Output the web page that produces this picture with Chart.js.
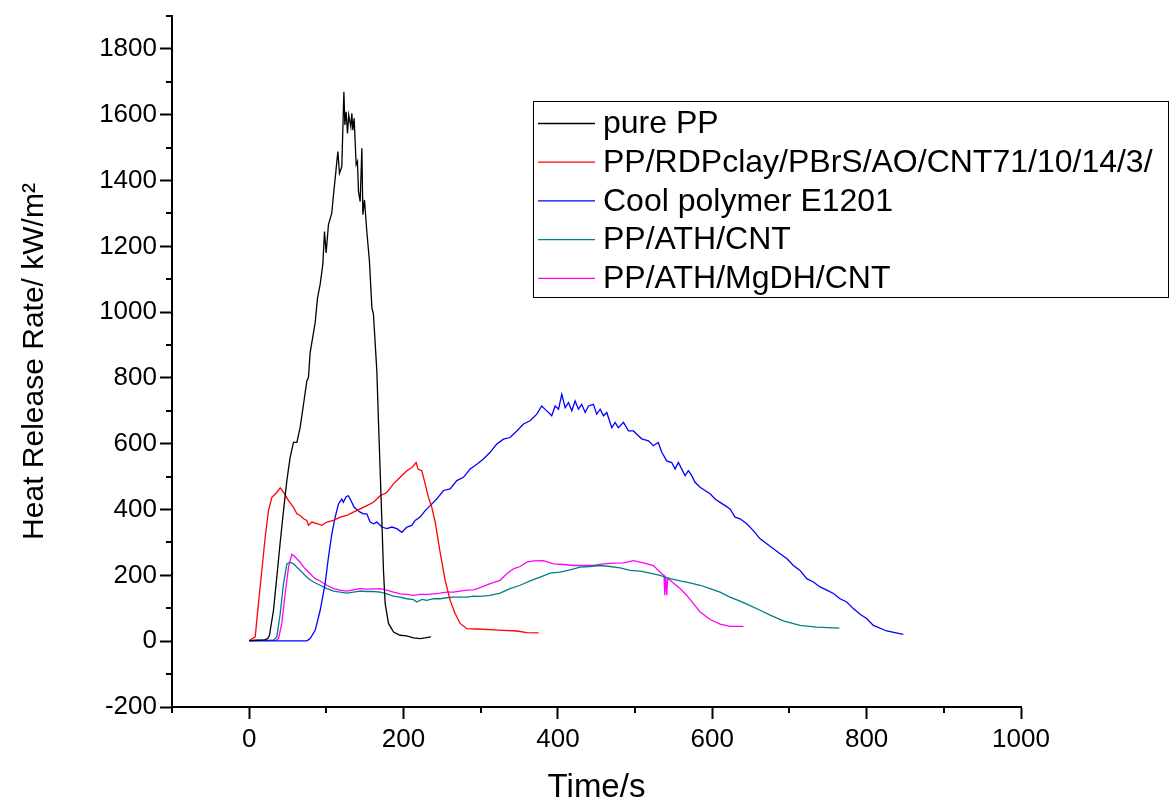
<!DOCTYPE html>
<html>
<head>
<meta charset="utf-8">
<title>Heat Release Rate</title>
<script src="https://cdn.jsdelivr.net/npm/chart.js@4.4.1/dist/chart.umd.min.js"></script>
<style>
    html, body { margin: 0; padding: 0; background: #fff; }
    #wrap { width: 1170px; height: 804px; }
</style>
</head>
<body>
<div id="wrap"><canvas id="grafica" width="1170" height="804"></canvas></div>
<script>
// series: [time (s), HRR (kW/m2)]
const purePP = [[0,2],[10,3],[20,4],[24,8],[26.3,18],[31.5,94],[35.8,195],[40,296],[44.5,397],[48.8,488],[53,558],[57.4,604],[61.8,604],[66,649],[70.4,720],[74.7,791],[76.8,801],[79,877],[85.5,968],[88.5,1043],[92,1085],[95.4,1145],[97.6,1245],[99.7,1180],[102.7,1266],[107,1301],[109.2,1356],[112.3,1427],[114.9,1488],[117,1422],[120,1442],[122.7,1670],[124,1569],[125.6,1609],[127.4,1543],[129,1599],[131.7,1564],[133,1604],[134.3,1553],[136,1589],[138.6,1448],[140.3,1458],[141.6,1367],[143.8,1336],[146,1498],[147.3,1296],[149.4,1341],[152.4,1245],[155.8,1155],[159,1013],[161,993],[165.4,821],[167.5,670],[169.7,518],[171.9,367],[174,215],[176.2,114],[180.5,54],[187,28],[195.6,18],[204,16],[212.8,10],[221.5,8],[227.9,10],[235.3,13]];

const rdpClay = [[0,2],[7.8,13],[12,114],[16.4,215],[20.7,316],[25,397],[29.4,437],[35.8,452],[40.2,466],[44.5,452],[51,427],[57.4,407],[61.8,387],[66,382],[70.4,372],[74.7,367],[76.8,352],[81.2,362],[87.7,357],[94.1,352],[100.6,362],[109.2,367],[117.9,377],[126.5,382],[135.1,392],[143.8,402],[152.4,412],[161,422],[169.7,442],[178.3,452],[187,478],[195.6,498],[204.3,518],[210.7,528],[216.3,543],[218.8,523],[223.7,518],[228,478],[232.3,437],[236.6,407],[241,362],[247.4,270],[253.9,185],[260.4,124],[266.8,84],[273.3,54],[282,38],[295,37],[312,35],[329.4,33],[346.7,31],[359.7,26],[374.8,25]];

const coolE1201 = [[0,1],[40,1],[74.7,1],[79,8],[85.5,33],[92,94],[98.4,175],[102.7,255],[107.1,326],[111.4,377],[115.7,417],[120,432],[122,422],[125.6,439],[128.6,442],[132,427],[136,407],[138.6,402],[143.8,392],[148,387],[152.4,387],[156.7,362],[161,357],[165.4,362],[171.9,347],[178.3,342],[184.8,347],[191.3,342],[197.8,331],[204.3,347],[210.7,352],[215,367],[221.5,377],[228,397],[234.5,412],[243,432],[251.7,458],[260.4,463],[269,488],[277.6,498],[286.3,523],[295,538],[303.5,554],[312.2,574],[320.8,599],[329.4,614],[338,619],[346.8,639],[355.3,660],[364,670],[372.7,690],[379,715],[385.6,700],[392,685],[396.4,715],[400.8,705],[405,750],[409.4,710],[413.7,725],[418,700],[422.3,730],[426.6,705],[430.9,720],[435.3,695],[439.6,715],[446,720],[450.3,690],[454.7,705],[459,685],[463.3,695],[469.8,649],[474.1,665],[478.4,649],[484.9,665],[491.4,639],[497.8,639],[502.2,629],[508.6,615],[517.3,609],[523.7,594],[530,604],[534.6,574],[541,548],[547.5,543],[551.8,523],[556.1,543],[560.5,523],[564.8,503],[569.1,518],[573.4,503],[577.7,483],[584.2,468],[590.6,458],[597.2,448],[603.6,432],[610.1,422],[616.6,412],[623,402],[629.5,377],[636,372],[644.7,357],[653.2,336],[662,311],[670.6,296],[679.2,281],[687.8,266],[696.5,251],[705,230],[713.7,215],[722.4,190],[731,180],[739.6,165],[748.3,155],[757,145],[765.5,129],[774.2,119],[782.8,99],[791.5,82],[800,69],[808.7,48],[826,31],[847.5,21]];

const athCnt = [[0,2],[31.5,3],[35.8,13],[40.2,84],[44.5,175],[48.8,235],[53.1,240],[57.4,235],[63.9,220],[70.4,205],[76.9,190],[83.4,180],[92,170],[100.6,160],[109.2,152],[117.9,149],[126.5,146],[135.1,149],[143.8,152],[152.4,151],[161,151],[169.7,149],[178.4,144],[187,137],[195.6,134],[204.3,129],[212.8,126],[217.2,119],[223.7,127],[230.2,124],[238.8,129],[247.4,129],[256,132],[264.6,134],[273.3,134],[282,134],[290.6,137],[299.2,136],[312.2,139],[325.1,146],[338,160],[351,170],[364,183],[377,195],[390,207],[402.8,210],[415.8,217],[428.8,225],[441.7,227],[454.7,230],[467.6,227],[480.6,223],[493.5,215],[506.5,213],[519.4,207],[532.4,200],[545.3,190],[558.3,183],[571.2,177],[584.2,170],[597.2,160],[610.1,149],[623,134],[636,122],[649,108],[662,94],[675,79],[692,62],[713.7,48],[735.3,43],[764.7,40]];

const athMgdhCnt = [[0,2],[35,3],[38,8],[42.3,54],[46.6,144],[51,225],[55.3,264],[59.6,256],[66,240],[72.5,220],[79,205],[85.5,190],[92,183],[100.6,170],[109.2,160],[117.9,155],[126.5,152],[135.1,156],[143.8,160],[152.4,158],[161,159],[169.7,160],[178.4,155],[187,149],[195.6,144],[204.3,142],[212.8,139],[221.5,142],[230.2,142],[238.8,144],[247.4,146],[256,149],[264.6,149],[273.3,152],[282,155],[290.6,156],[299.2,163],[312.2,175],[325,185],[333.8,205],[342.4,220],[351,227],[359.7,240],[368.3,244],[381.2,245],[394.2,235],[407.1,233],[420,230],[433,230],[446,230],[459,235],[472,237],[484.8,238],[497.8,245],[510.8,238],[523.7,230],[534.6,205],[537.5,200],[538.5,140],[539.5,195],[541,140],[542,190],[545.3,185],[558.3,160],[567,139],[575.6,114],[584.2,89],[597.2,66],[610.1,52],[623,45],[640.3,45]];

const seriesNames = ["pure PP", "PP/RDPclay/PBrS/AO/CNT71/10/14/3/", "Cool polymer E1201", "PP/ATH/CNT", "PP/ATH/MgDH/CNT"];
const seriesColors = ["#000000", "#ff0000", "#0000ff", "#008080", "#ff00ff"];

const xMajor = [0, 200, 400, 600, 800, 1000];
const xMinor = [-100, 100, 300, 500, 700, 900];
const yMajor = [-200, 0, 200, 400, 600, 800, 1000, 1200, 1400, 1600, 1800];
const yMinor = [-100, 100, 300, 500, 700, 900, 1100, 1300, 1500, 1700, 1900];

const FUENTE = "'Liberation Sans', Arial, sans-serif";

// ticks menores (mas cortos) dibujados con las escalas de Chart.js
const ticksMenores = {
    id: "ticksMenores",
    afterDraw(chart) {
        const ctx = chart.ctx;
        const xs = chart.scales.x, ys = chart.scales.y;
        ctx.save();
        ctx.strokeStyle = "#000";
        ctx.lineWidth = 2;
        ctx.beginPath();
        xMinor.forEach(v => {
            const px = Math.round(xs.getPixelForValue(v));
            ctx.moveTo(px, xs.top);
            ctx.lineTo(px, xs.top + 6);
        });
        yMinor.forEach(v => {
            const py = Math.round(ys.getPixelForValue(v));
            ctx.moveTo(ys.right, py);
            ctx.lineTo(ys.right - 6, py);
        });
        ctx.stroke();
        ctx.restore();
    }
};

// leyenda con recuadro dentro del area
const leyenda = {
    id: "leyenda",
    afterDraw(chart) {
        const ctx = chart.ctx;
        const bx = 533.5, by = 101.5, bw = 635, bh = 196;
        ctx.save();
        ctx.fillStyle = "#fff";
        ctx.fillRect(bx, by, bw, bh);
        ctx.strokeStyle = "#000";
        ctx.lineWidth = 1;
        ctx.strokeRect(bx, by, bw, bh);
        ctx.beginPath();
        ctx.rect(bx, by, bw, bh);
        ctx.clip();
        ctx.font = "32px " + FUENTE;
        ctx.textBaseline = "middle";
        chart.data.datasets.forEach((ds, i) => {
            const y = by + 22 + i * 38.7;
            ctx.strokeStyle = ds.borderColor;
            ctx.lineWidth = 1.3;
            ctx.beginPath();
            ctx.moveTo(538, y);
            ctx.lineTo(595, y);
            ctx.stroke();
            ctx.fillStyle = "#000";
            ctx.fillText(ds.label, 603, y + 1);
        });
        ctx.restore();
    }
};

const datos = {
    datasets: [purePP, rdpClay, coolE1201, athCnt, athMgdhCnt].map((serie, i) => ({
        label: seriesNames[i],
        data: serie.map(p => ({ x: p[0], y: p[1] })),
        borderColor: seriesColors[i],
        backgroundColor: seriesColors[i],
        borderWidth: 1.3,
        pointRadius: 0,
        tension: 0,
        fill: false
    }))
};

new Chart(document.getElementById("grafica").getContext("2d"), {
    type: "line",
    data: datos,
    plugins: [ticksMenores, leyenda],
    options: {
        responsive: false,
        animation: false,
        layout: { padding: { top: 14, right: 149, left: 0, bottom: 0 } },
        plugins: { legend: { display: false }, tooltip: { enabled: false } },
        scales: {
            x: {
                type: "linear",
                min: -100,
                max: 1000,
                afterBuildTicks: s => { s.ticks = xMajor.map(v => ({ value: v })); },
                afterFit: s => { s.height = 97; },
                border: { color: "#000", width: 2 },
                grid: { drawOnChartArea: false, drawTicks: true, tickLength: 12, tickWidth: 2, tickColor: "#000" },
                ticks: { color: "#000", font: { family: FUENTE, size: 26, lineHeight: 1 }, padding: 8, maxRotation: 0, callback: v => String(v) },
                title: { display: true, text: "Time/s", color: "#000", font: { family: FUENTE, size: 33, lineHeight: 1 }, padding: { top: 0, bottom: 0 } }
            },
            y: {
                type: "linear",
                min: -200,
                max: 1900,
                afterBuildTicks: s => { s.ticks = yMajor.map(v => ({ value: v })); },
                afterFit: s => { s.width = 172; },
                border: { color: "#000", width: 2 },
                grid: { drawOnChartArea: false, drawTicks: true, tickLength: 12, tickWidth: 2, tickColor: "#000" },
                ticks: { color: "#000", font: { family: FUENTE, size: 26, lineHeight: 1 }, padding: 3, callback: v => String(v) },
                title: { display: true, text: "Heat Release Rate/ kW/m²", color: "#000", font: { family: FUENTE, size: 30, lineHeight: 1 }, padding: { top: 20, bottom: 0 } }
            }
        }
    }
});
</script>
</body>
</html>
